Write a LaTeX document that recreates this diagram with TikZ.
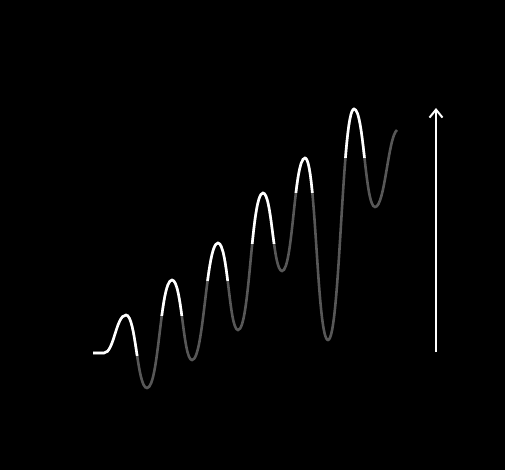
\documentclass[tikz,border=0pt]{standalone}
\usetikzlibrary{arrows.meta}

% the wave, from extremum to extremum
\newcommand{\wavepath}{(S) -- (A)
  .. controls +(10,0) and +(-10,0) .. (P1)
  .. controls +(10,0) and +(-10,0) .. (T1)
  .. controls +(12,0) and +(-12,0) .. (P2)
  .. controls +(10,0) and +(-9,0) .. (T2)
  .. controls +(12,0) and +(-12,0) .. (P3)
  .. controls +(10,0) and +(-9,0) .. (T3)
  .. controls +(12,0) and +(-12,0) .. (P4)
  .. controls +(9,0) and +(-9,0) .. (T4)
  .. controls +(11,0) and +(-11,0) .. (P5)
  .. controls +(11,0) and +(-11,0) .. (T5)
  .. controls +(12,0) and +(-12,0) .. (P6)
  .. controls +(10,0) and +(-10,0) .. (T6)
  .. controls +(10,0) and +(-9,7) .. (E)}

\begin{document}
\begin{tikzpicture}[x=1pt, y=-1pt,
    wave/.style={draw=white!34!black, line width=2.6pt},
    crest/.style={draw=white, line width=2.6pt},
    arrow/.style={-{Straight Barb[length=8pt,width=13pt]}, draw=white, line width=2pt}
  ]
  % background
  \fill[black] (0,0) rectangle (505,470);

  % extrema
  \coordinate (S) at (93,353);
  \coordinate (A) at (104,353);
  \coordinate (P1) at (126,315);
  \coordinate (T1) at (147,388);
  \coordinate (P2) at (172,280);
  \coordinate (T2) at (192,360);
  \coordinate (P3) at (218,243);
  \coordinate (T3) at (238,330);
  \coordinate (P4) at (263,193);
  \coordinate (T4) at (282,271);
  \coordinate (P5) at (305,158);
  \coordinate (T5) at (328,340);
  \coordinate (P6) at (354,109);
  \coordinate (T6) at (375,207);
  \coordinate (E) at (397,130);
  \coordinate (ceiling) at (0,80);

  % gray wave
  \draw[wave] \wavepath;

  % white crests above the previous peak
  \begin{scope}
    \clip (85,290) rectangle (145,355.5);
    \draw[crest] \wavepath;
  \end{scope}
  \foreach \prev/\lo/\hi in {P1/T1/T2, P2/T2/T3, P3/T3/T4, P4/T4/T5, P5/T5/T6} {
    \begin{scope}
      \clip (\lo |- ceiling) rectangle (\hi |- \prev);
      \draw[crest] \wavepath;
    \end{scope}
  }

  % arrow
  \coordinate (base) at (436,352);
  \coordinate (top) at (436,108);
  \draw[arrow] (base) -- (top);
\end{tikzpicture}
\end{document}
